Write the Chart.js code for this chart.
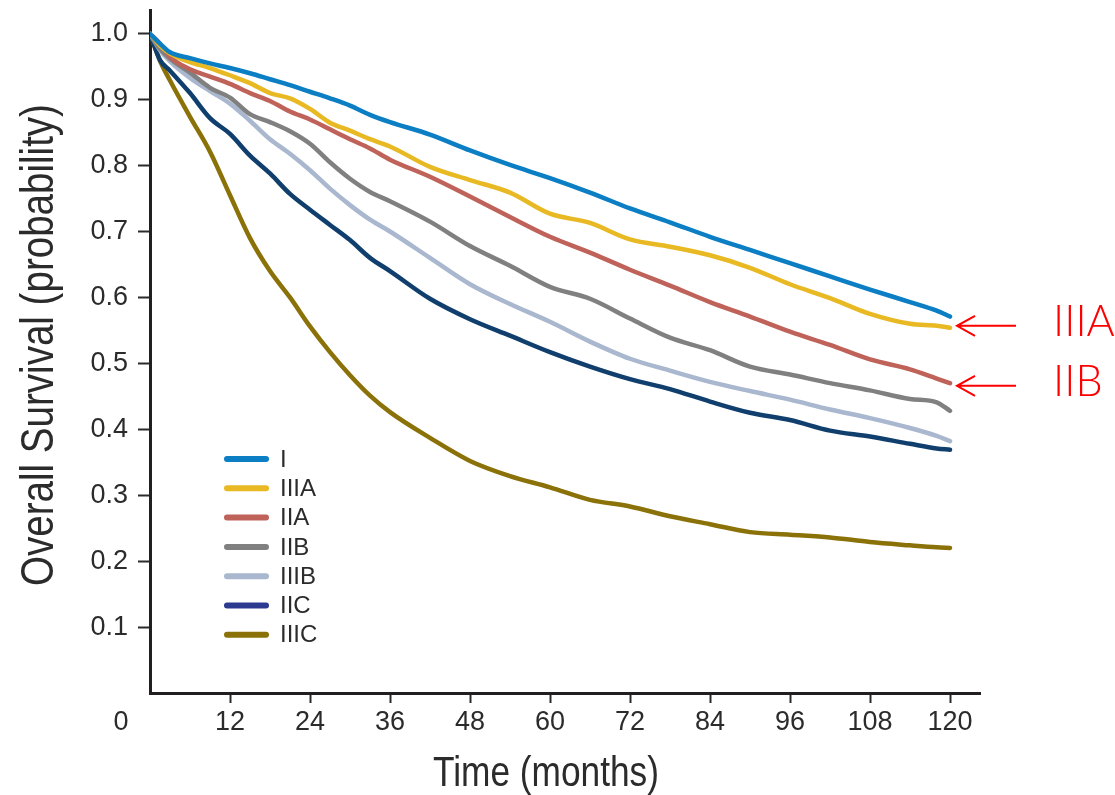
<!DOCTYPE html>
<html>
<head>
<meta charset="utf-8">
<title>Overall survival by stage</title>
<script src="https://cdn.jsdelivr.net/npm/chart.js@4.4.1/dist/chart.umd.min.js"></script>
<style>
  html, body { margin: 0; padding: 0; background: #fff; }
  #wrap { width: 1115px; height: 795px; position: relative; }
</style>
</head>
<body>
<div id="wrap"><canvas id="survivalChart"></canvas></div>
<script>
// months where each curve was sampled
const months = [0, 1.5, 3, 6, 9, 12, 15, 18, 21, 24, 27, 30, 33, 36, 42, 48, 54, 60, 66, 72, 78, 84, 90, 96, 102, 108, 114, 118, 120];

// overall survival probability per stage
const stageI    = [1.000, 0.985, 0.972, 0.963, 0.955, 0.948, 0.940, 0.931, 0.922, 0.912, 0.902, 0.891, 0.877, 0.866, 0.847, 0.823, 0.801, 0.781, 0.759, 0.735, 0.714, 0.692, 0.672, 0.652, 0.632, 0.612, 0.593, 0.580, 0.571];
const stageIIIA = [1.000, 0.982, 0.970, 0.957, 0.948, 0.937, 0.925, 0.910, 0.902, 0.886, 0.865, 0.853, 0.840, 0.829, 0.798, 0.778, 0.759, 0.727, 0.713, 0.688, 0.677, 0.664, 0.645, 0.620, 0.599, 0.575, 0.560, 0.557, 0.554];
const stageIIA  = [1.000, 0.985, 0.965, 0.946, 0.935, 0.924, 0.910, 0.898, 0.882, 0.870, 0.855, 0.840, 0.826, 0.809, 0.783, 0.753, 0.722, 0.692, 0.668, 0.642, 0.618, 0.593, 0.571, 0.548, 0.528, 0.506, 0.491, 0.477, 0.470];
const stageIIB  = [1.000, 0.977, 0.962, 0.941, 0.918, 0.903, 0.878, 0.866, 0.852, 0.833, 0.805, 0.780, 0.760, 0.746, 0.715, 0.678, 0.648, 0.616, 0.598, 0.568, 0.539, 0.520, 0.495, 0.483, 0.470, 0.459, 0.446, 0.441, 0.428];
const stageIIIB = [1.000, 0.975, 0.958, 0.933, 0.913, 0.894, 0.868, 0.840, 0.818, 0.793, 0.765, 0.740, 0.718, 0.700, 0.660, 0.620, 0.590, 0.563, 0.533, 0.507, 0.489, 0.472, 0.458, 0.445, 0.430, 0.417, 0.402, 0.390, 0.382];
const stageIIC  = [1.000, 0.960, 0.944, 0.910, 0.872, 0.848, 0.815, 0.788, 0.757, 0.733, 0.710, 0.687, 0.660, 0.640, 0.598, 0.567, 0.542, 0.517, 0.495, 0.476, 0.461, 0.442, 0.425, 0.414, 0.398, 0.389, 0.378, 0.371, 0.369];
const stageIIIC = [1.000, 0.959, 0.929, 0.874, 0.821, 0.755, 0.690, 0.640, 0.600, 0.556, 0.517, 0.482, 0.451, 0.426, 0.387, 0.352, 0.329, 0.312, 0.293, 0.283, 0.268, 0.256, 0.244, 0.240, 0.236, 0.229, 0.224, 0.221, 0.220];

const stageNames = ['I', 'IIIA', 'IIA', 'IIB', 'IIIB', 'IIC', 'IIIC'];
const stageSeries = [stageI, stageIIIA, stageIIA, stageIIB, stageIIIB, stageIIC, stageIIIC];

const xTicks = [12, 24, 36, 48, 60, 72, 84, 96, 108, 120];
const yTicks = [0.1, 0.2, 0.3, 0.4, 0.5, 0.6, 0.7, 0.8, 0.9, 1.0];

// red call-outs on the right, pointing at the end of the curves
const callouts = [
  { text: 'IIIA', value: 0.557 },
  { text: 'IIB', value: 0.466 }
];

const lineColors   = ['#0b7ec4', '#e8b923', '#bf625a', '#808080', '#a9b7cf', '#103f6d', '#8a7108'];
const swatchColors = ['#0b7ec4', '#e8b923', '#bf625a', '#808080', '#a9b7cf', '#2c3a8f', '#8a7108'];

const ink = '#2b2b2b';
const tickFont = { family: '"Liberation Sans", Arial, sans-serif', size: 27 };

// legend, axis titles, the lone "0" and the red arrows
const extras = {
  id: 'extras',
  afterDraw(chart) {
    const ctx = chart.ctx;
    const xs = chart.scales.x;
    const ys = chart.scales.y;
    const area = chart.chartArea;
    ctx.save();

    // legend inside the plot, lower left
    const lx = area.left + 74;
    let ly = 459;
    ctx.lineCap = 'round';
    ctx.lineWidth = 6;
    ctx.font = '24px "Liberation Sans", Arial, sans-serif';
    ctx.textAlign = 'left';
    ctx.textBaseline = 'middle';
    stageNames.forEach(function (name, i) {
      ctx.strokeStyle = swatchColors[i];
      ctx.beginPath();
      ctx.moveTo(lx + 3, ly);
      ctx.lineTo(lx + 42, ly);
      ctx.stroke();
      ctx.fillStyle = ink;
      ctx.fillText(name, lx + 56, ly + 1);
      ly += 29.3;
    });

    // origin label sits left of the y axis
    ctx.font = '27px "Liberation Sans", Arial, sans-serif';
    ctx.textAlign = 'center';
    ctx.fillText('0', area.left - 29, 723);

    // axis titles in a condensed face
    ctx.fillStyle = ink;
    ctx.textBaseline = 'alphabetic';
    ctx.save();
    ctx.translate(546, 786);
    ctx.scale(0.82, 1);
    ctx.font = '43px "Liberation Sans", Arial, sans-serif';
    ctx.fillText('Time (months)', 0, 0);
    ctx.restore();

    ctx.save();
    ctx.translate(53, 345);
    ctx.rotate(-Math.PI / 2);
    ctx.scale(0.82, 1);
    ctx.font = '47px "Liberation Sans", Arial, sans-serif';
    ctx.fillText('Overall Survival (probability)', 0, 0);
    ctx.restore();

    // arrows with stage names
    const tipX = xs.getPixelForValue(120) + 7;
    ctx.strokeStyle = '#ff0000';
    ctx.fillStyle = '#ff0000';
    ctx.lineWidth = 2;
    ctx.lineCap = 'butt';
    ctx.font = '300 43px Lato, "Open Sans", sans-serif';
    ctx.textAlign = 'left';
    ctx.textBaseline = 'middle';
    callouts.forEach(function (c) {
      const py = ys.getPixelForValue(c.value);
      ctx.beginPath();
      ctx.moveTo(tipX, py);
      ctx.lineTo(tipX + 59, py);
      ctx.moveTo(tipX + 18, py - 10);
      ctx.lineTo(tipX, py);
      ctx.lineTo(tipX + 18, py + 10);
      ctx.stroke();
      ctx.fillText(c.text, tipX + 96, py - 4);
    });

    ctx.restore();
  }
};

new Chart(document.getElementById('survivalChart'), {
  type: 'line',
  data: {
    datasets: stageNames.map(function (name, i) {
      return {
        label: name,
        data: months.map(function (m, k) { return { x: m, y: stageSeries[i][k] }; }),
        borderColor: lineColors[i],
        backgroundColor: lineColors[i],
        borderWidth: 4.5,
        pointRadius: 0,
        cubicInterpolationMode: 'monotone',
        borderJoinStyle: 'round',
        borderCapStyle: 'round',
        fill: false
      };
    })
  },
  options: {
    responsive: true,
    maintainAspectRatio: false,
    animation: false,
    events: [],
    layout: { padding: { top: 10, right: 135, left: 0, bottom: 0 } },
    plugins: {
      legend: { display: false },
      tooltip: { enabled: false }
    },
    scales: {
      x: {
        type: 'linear',
        min: 0,
        max: 124.5,
        afterFit: function (s) { s.height = 102; s.paddingLeft = 0; s.paddingRight = 0; },
        afterBuildTicks: function (s) { s.ticks = xTicks.map(function (v) { return { value: v }; }); },
        grid: { drawOnChartArea: false, drawTicks: true, tickLength: 10, tickWidth: 2, tickColor: ink },
        border: { display: true, color: '#231f20', width: 3 },
        ticks: { font: { family: tickFont.family, size: tickFont.size, lineHeight: 1 }, color: ink, padding: 6, maxRotation: 0, autoSkip: false }
      },
      y: {
        type: 'linear',
        min: 0,
        max: 1.036,
        afterFit: function (s) { s.width = 150; s.paddingTop = 0; s.paddingBottom = 0; },
        afterBuildTicks: function (s) { s.ticks = yTicks.map(function (v) { return { value: v }; }); },
        grid: { drawOnChartArea: false, drawTicks: true, tickLength: 12, tickWidth: 2, tickColor: ink },
        border: { display: true, color: '#231f20', width: 3 },
        ticks: {
          font: { family: tickFont.family, size: tickFont.size, lineHeight: 1 },
          color: ink,
          padding: 10,
          autoSkip: false,
          callback: function (v) { return Number(v).toFixed(1); }
        }
      }
    }
  },
  plugins: [extras]
});
</script>
</body>
</html>
